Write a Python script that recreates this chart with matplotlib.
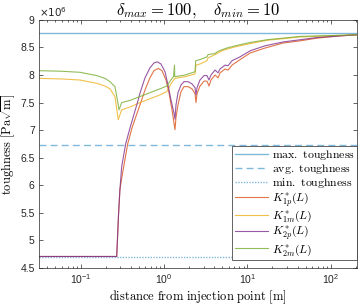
import numpy as np
import matplotlib
matplotlib.use("Agg")
import matplotlib.pyplot as plt
from matplotlib.ticker import FuncFormatter, LogLocator

plt.rcParams['mathtext.fontset'] = 'cm'
plt.rcParams['font.family'] = ['Liberation Sans', 'DejaVu Sans']

# toughness levels (x1e6 Pa sqrt(m))
k_max = 8.77
k_avg = 6.74
k_min = 4.70

# K*_1p(L)
x_1p = [0.03, 0.271, 0.285, 0.296, 0.316, 0.367, 0.413, 0.540, 0.592, 0.679, 0.759,
        0.855, 0.946, 1.057, 1.148, 1.247, 1.355, 1.393, 1.473, 1.600, 1.738, 1.942,
        2.168, 2.356, 2.42, 2.49, 2.70, 3.02, 3.28, 3.46, 3.66, 4.09, 4.45, 4.70,
        5.40, 5.87, 6.55, 8.17, 10.8, 16.3, 26.8, 42.9, 68.7, 130, 207]
y_1p = [4.71, 4.71, 5.47, 5.92, 6.19, 6.75, 7.04, 7.55, 7.73, 7.95, 8.08,
        8.12, 8.08, 7.91, 7.68, 7.37, 7.01, 7.23, 7.46, 7.70, 7.79, 7.79,
        7.75, 7.66, 7.50, 7.66, 7.80, 7.89, 7.89, 7.80, 7.91, 8.00, 7.95, 8.04,
        8.11, 8.09, 8.18, 8.28, 8.40, 8.49, 8.58, 8.62, 8.67, 8.71, 8.73]

# K*_1m(L)
x_1m = [0.03, 0.0564, 0.098, 0.156, 0.196, 0.225, 0.258, 0.283, 0.311, 0.391, 0.515,
        0.679, 0.895, 1.078, 1.237, 1.355, 1.787, 2.356, 2.42, 2.70, 3.28, 3.37,
        4.09, 4.45, 4.97, 5.70, 7.12, 10.8, 17.2, 42.9, 207]
y_1m = [7.94, 7.93, 7.91, 7.85, 7.80, 7.75, 7.61, 7.19, 7.37, 7.42, 7.50,
        7.57, 7.64, 7.70, 7.86, 7.94, 7.97, 8.02, 8.18, 8.20, 8.26, 8.31,
        8.37, 8.40, 8.44, 8.47, 8.51, 8.57, 8.63, 8.69, 8.73]

# K*_2p(L)
x_2p = [0.03, 0.271, 0.285, 0.296, 0.311, 0.347, 0.391, 0.491, 0.515, 0.592, 0.679,
        0.759, 0.831, 0.920, 1.028, 1.117, 1.213, 1.318, 1.355, 1.393, 1.473, 1.600,
        1.738, 1.942, 2.168, 2.356, 2.42, 2.49, 2.70, 3.02, 3.28, 3.46, 3.66, 4.09,
        4.45, 4.70, 5.40, 5.87, 6.55, 8.17, 10.8, 16.3, 26.8, 42.9, 68.7, 130, 207]
y_2p = [4.71, 4.71, 5.47, 5.92, 6.34, 6.75, 7.04, 7.55, 7.67, 7.95, 8.13,
        8.22, 8.24, 8.20, 8.06, 7.82, 7.55, 7.31, 7.20, 7.46, 7.68, 7.82,
        7.88, 7.88, 7.84, 7.77, 7.64, 7.77, 7.91, 7.99, 7.99, 7.91, 8.00, 8.09,
        8.04, 8.11, 8.18, 8.17, 8.26, 8.33, 8.44, 8.53, 8.60, 8.64, 8.68, 8.71, 8.73]

# K*_2m(L)
x_2m = [0.03, 0.0564, 0.098, 0.156, 0.196, 0.225, 0.258, 0.273, 0.289, 0.311, 0.391,
        0.515, 0.679, 0.895, 1.078, 1.237, 1.30, 1.337, 1.345, 1.787, 2.356, 2.40,
        2.70, 3.28, 3.37, 4.09, 4.45, 4.97, 5.70, 7.12, 10.8, 17.2, 42.9, 207]
y_2m = [8.08, 8.07, 8.05, 7.99, 7.94, 7.88, 7.79, 7.59, 7.37, 7.50, 7.54,
        7.61, 7.68, 7.75, 7.80, 7.93, 7.97, 8.18, 7.97, 8.00, 8.06, 8.26,
        8.28, 8.33, 8.37, 8.39, 8.43, 8.46, 8.49, 8.53, 8.59, 8.64, 8.70, 8.73]

c_blue = '#0072BD'
c_alpha = 0.8

fig = plt.figure(figsize=(3.6, 3.06), dpi=100)
ax = fig.add_axes([0.108, 0.124, 0.884, 0.811])

ax.axhline(k_max, color=c_blue, alpha=0.5, lw=1.0, label=r'$\mathrm{max.\ toughness}$')
ax.axhline(k_avg, color=c_blue, alpha=0.5, lw=1.0, ls=(0, (5, 3)),
           label=r'$\mathrm{avg.\ toughness}$')
ax.axhline(k_min, color=c_blue, alpha=0.5, lw=1.0, ls=(0, (1, 1)),
           label=r'$\mathrm{min.\ toughness}$')
ax.plot(x_1p, y_1p, color='#D95319', lw=0.8, alpha=c_alpha, label=r'$K^*_{1p}(L)$')
ax.plot(x_1m, y_1m, color='#EDB120', lw=0.8, alpha=c_alpha, label=r'$K^*_{1m}(L)$')
ax.plot(x_2p, y_2p, color='#7E2F8E', lw=0.8, alpha=c_alpha, label=r'$K^*_{2p}(L)$')
ax.plot(x_2m, y_2m, color='#77AC30', lw=0.8, alpha=c_alpha, label=r'$K^*_{2m}(L)$')

ax.set_xscale('log')
ax.set_xlim(0.0316, 207)
ax.set_ylim(4.5, 9)
ax.set_yticks(np.arange(4.5, 9.01, 0.5))
ax.yaxis.set_major_formatter(FuncFormatter(lambda v, p: '%g' % v))
ax.xaxis.set_major_locator(LogLocator(base=10, numticks=10))
ax.xaxis.set_minor_locator(LogLocator(base=10, subs=np.arange(2, 10), numticks=20))

ax.tick_params(which='both', direction='in', top=True, right=True,
               color='#262626', width=0.5, labelsize=7.5, labelcolor='#262626', pad=3)
ax.tick_params(which='major', length=3)
ax.tick_params(which='minor', length=1.6)
for s in ax.spines.values():
    s.set_linewidth(0.5)
    s.set_color('#262626')

ax.set_xlabel(r'$\mathrm{distance\ from\ injection\ point\ [m]}$', fontsize=9, labelpad=2)
ax.set_ylabel(r'$\mathrm{toughness\ [Pa}\sqrt{\mathrm{m}}\mathrm{]}$', fontsize=9, labelpad=2)
ax.set_title(r'$\delta_{max} = 100, \quad \delta_{min} = 10$', fontsize=12, pad=3)
ax.text(0.0, 1.005, r'$\times10^{6}$', transform=ax.transAxes, ha='left', va='bottom',
        fontsize=7.5, color='#262626', math_fontfamily='dejavusans')

leg = ax.legend(loc='lower right', bbox_to_anchor=(1.0, 0.032), borderaxespad=0,
                fontsize=8.5, fancybox=False, framealpha=1, edgecolor='#262626',
                handlelength=2.8, handletextpad=0.35, labelspacing=0.0, borderpad=0.2)
leg.get_frame().set_linewidth(0.5)

fig.savefig('out.png', dpi=100)
